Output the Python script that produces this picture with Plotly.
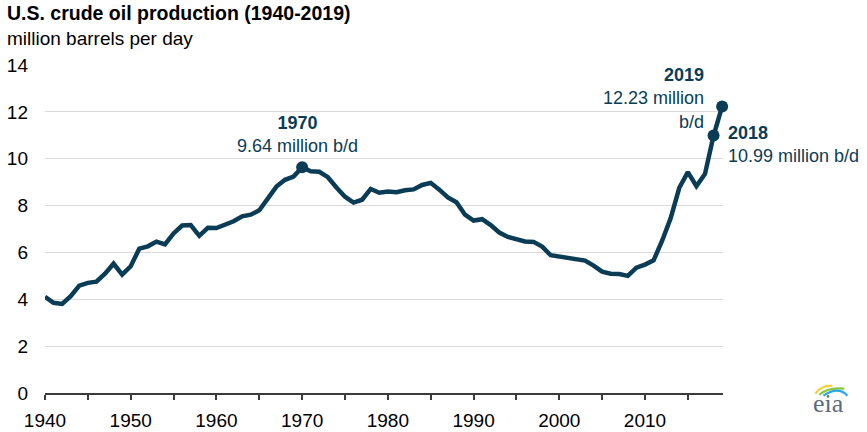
import plotly.graph_objects as go

# ---- data (million barrels per day) ----
years = list(range(1940, 2020))
production = [
    4.11, 3.85, 3.80, 4.13, 4.58, 4.70, 4.75, 5.09, 5.52, 5.05,
    5.41, 6.16, 6.26, 6.46, 6.34, 6.81, 7.15, 7.17, 6.71, 7.05,
    7.04, 7.18, 7.33, 7.54, 7.61, 7.80, 8.30, 8.81, 9.10, 9.24,
    9.64, 9.46, 9.44, 9.21, 8.77, 8.38, 8.13, 8.25, 8.71, 8.55,
    8.60, 8.57, 8.65, 8.69, 8.88, 8.97, 8.68, 8.35, 8.14, 7.61,
    7.36, 7.42, 7.17, 6.85, 6.66, 6.56, 6.47, 6.45, 6.25, 5.88,
    5.82, 5.80, 5.74, 5.65, 5.44, 5.18, 5.09, 5.08, 5.00, 5.35,
    5.48, 5.66, 6.50, 7.47, 8.76, 9.43, 8.83, 9.35, 10.99, 12.23,
]
highlight_years = [1970, 2018, 2019]
highlight_values = [9.64, 10.99, 12.23]
x_ticks = [1940, 1950, 1960, 1970, 1980, 1990, 2000, 2010]
y_ticks = [0, 2, 4, 6, 8, 10, 12, 14]

LINE = "#0b3c56"
FONT = "Liberation Sans, Arial, sans-serif"

W, H = 867, 432
PLOT_X0, PLOT_X1, PLOT_Y0, PLOT_Y1 = 45, 722.7, 65, 393.3  # pixels
L, T = PLOT_X0, PLOT_Y0
R, B = W - PLOT_X1, H - PLOT_Y1
PW, PH = PLOT_X1 - PLOT_X0, PLOT_Y1 - PLOT_Y0


def px(x):
    return (x - PLOT_X0) / PW


def py(y):
    return (PLOT_Y1 - y) / PH


fig = go.Figure()
fig.add_trace(go.Scatter(
    x=years, y=production, mode="lines",
    line=dict(color=LINE, width=4.5), hoverinfo="x+y", showlegend=False,
))
fig.add_trace(go.Scatter(
    x=highlight_years, y=highlight_values, mode="markers",
    marker=dict(color=LINE, size=12), cliponaxis=False, showlegend=False,
))

ann = []
ann.append(dict(x=1970, y=9.64, xref="x", yref="y", xanchor="center", yanchor="middle",
                xshift=-5, yshift=33, showarrow=False, align="center",
                text="<b>1970</b><br>9.64 million b/d",
                font=dict(family=FONT, size=18, color=LINE)))
ann.append(dict(x=2019, y=12.23, xref="x", yref="y", xanchor="right", yanchor="middle",
                xshift=-16, yshift=8, showarrow=False, align="right",
                text="<b>2019</b><br>12.23 million<br>b/d",
                font=dict(family=FONT, size=18, color=LINE)))
ann.append(dict(x=2018, y=10.99, xref="x", yref="y", xanchor="left", yanchor="middle",
                xshift=12, yshift=-9, showarrow=False, align="left",
                text="<b>2018</b><br>10.99 million b/d",
                font=dict(family=FONT, size=18, color=LINE)))
# title + subtitle
ann.append(dict(x=px(5), y=py(13), xref="paper", yref="paper", xanchor="left", yanchor="middle",
                showarrow=False, text="<b>U.S. crude oil production (1940-2019)</b>",
                font=dict(family=FONT, size=19.5, color="#000000")))
ann.append(dict(x=px(5), y=py(38), xref="paper", yref="paper", xanchor="left", yanchor="middle",
                showarrow=False, text="million barrels per day",
                font=dict(family=FONT, size=19, color="#000000")))
# eia logo text
ann.append(dict(x=px(828), y=py(404), xref="paper", yref="paper", xanchor="center", yanchor="middle",
                showarrow=False, text="eia",
                font=dict(family="Liberation Serif, Times New Roman, serif", size=26, color="#5b6b7c")))

shapes = []
for (x0, y0, cx, cy, x1, y1, col) in [
    (815, 394, 820, 386, 832, 386, "#f2d13a"),
    (819, 395, 828, 387, 844, 389, "#8cc63f"),
    (823, 396, 838, 386, 847, 396, "#29a9e0"),
]:
    shapes.append(dict(type="path", xref="paper", yref="paper",
                       path=f"M {px(x0)},{py(y0)} Q {px(cx)},{py(cy)} {px(x1)},{py(y1)}",
                       line=dict(color=col, width=2.2)))

fig.update_layout(
    width=W, height=H, autosize=False,
    margin=dict(l=L, r=R, t=T, b=B, pad=0),
    plot_bgcolor="white", paper_bgcolor="white",
    annotations=ann, shapes=shapes,
    font=dict(family=FONT, size=18, color="#000000"),
    xaxis=dict(
        range=[1940, 2019.1], tickmode="array", tickvals=x_ticks,
        ticktext=[str(v) for v in x_ticks],
        showgrid=False, zeroline=False, automargin=False,
        showline=True, linecolor="#3c3c3c", linewidth=2,
        ticks="outside", ticklen=5, tickwidth=1.5, tickcolor="#3c3c3c",
        minor=dict(dtick=5, tick0=1940, ticks="outside", ticklen=5, tickwidth=1.5,
                   tickcolor="#3c3c3c", showgrid=False),
        tickfont=dict(family=FONT, size=19, color="#000000"),
        ticklabelstandoff=4, fixedrange=True,
    ),
    yaxis=dict(
        range=[0, 14], tickmode="array", tickvals=y_ticks,
        ticktext=[str(v) for v in y_ticks],
        showgrid=True, gridcolor="#d9d9d9", gridwidth=1.3,
        zeroline=False, showline=False, ticks="", automargin=False,
        tickfont=dict(family=FONT, size=19, color="#000000"),
        ticklabelstandoff=16, fixedrange=True,
    ),
)

# remove the default 8px page margin so the figure sits at the window's top-left corner
fig.write_html("out.html",
               config={"displayModeBar": False},
               post_script="document.body.style.margin='0';document.body.style.overflow='hidden';")
